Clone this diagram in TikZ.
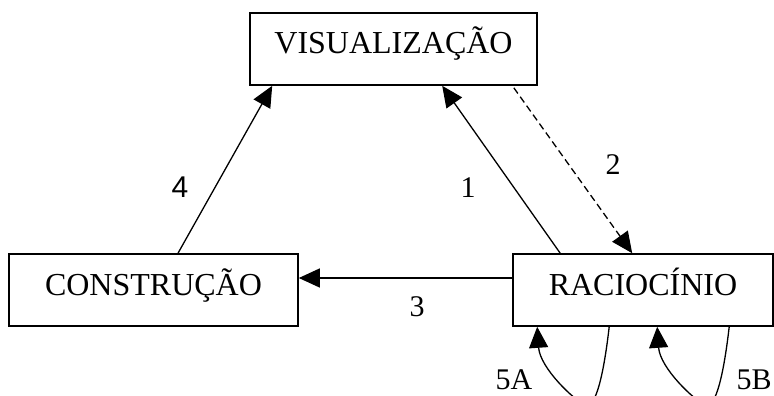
\documentclass[tikz,border=0pt]{standalone}
\usepackage{fontspec}
\setmainfont{Liberation Serif}
\newfontfamily\labelsans{Liberation Sans}
\usetikzlibrary{arrows.meta,calc}
\begin{document}
\begin{tikzpicture}[x=1pt,y=-1pt,
  stage/.style={draw,line width=1.6pt,minimum height=72pt,inner sep=0pt,
    text height=22pt,text depth=12pt,font=\fontsize{32}{38}\selectfont},
  link/.style={line width=1.3pt,-{Triangle[length=21pt,width=19pt]}},
  num/.style={anchor=base,inner sep=0pt,font=\fontsize{30}{36}\selectfont}]
\useasboundingbox (0,0) rectangle (774,396);

% the three stages
\node[stage,minimum width=287pt] (vis) at (393.5,49) {VISUALIZAÇÃO};
\node[stage,minimum width=289pt] (con) at (153.5,290) {CONSTRUÇÃO};
\node[stage,minimum width=260pt] (rac) at (643,290) {RACIOCÍNIO};

% transitions between stages
\draw[link] ([xshift=24.5pt]con.north) -- ([xshift=23pt]vis.south west);
\draw[link] ([xshift=48pt]rac.north west) -- ([xshift=193pt]vis.south west);
\draw[link,dash pattern=on 7pt off 4pt] ([xshift=-24pt,yshift=-2pt]vis.south east)
  -- ([xshift=120pt]rac.north west);
\draw[link] ([yshift=12pt]rac.west) -- ([yshift=12pt]con.east);

% self loops under the reasoning stage
\begin{scope}
\clip (0,0) rectangle (774,396);
\draw[link] ([xshift=97pt]rac.south west)
  .. controls (604,372) and (596,410) .. (585,405)
  .. controls (574,400) and (540,368) .. ([xshift=25pt]rac.south west);
\draw[link] ([xshift=217pt]rac.south west)
  .. controls (724,372) and (716,410) .. (705,405)
  .. controls (694,400) and (660,368) .. ([xshift=145pt]rac.south west);
\end{scope}

% labels
\node[num,font=\fontsize{30}{36}\labelsans] (l4) at (180,197) {4};
\node[num] (l1) at (468,197) {1};
\node[num] (l2) at (613,174) {2};
\node[num] (l3) at (417,316) {3};
\node[num] (l5a) at (514,389) {5A};
\node[num] (l5b) at (754,389) {5B};
\end{tikzpicture}
\end{document}
